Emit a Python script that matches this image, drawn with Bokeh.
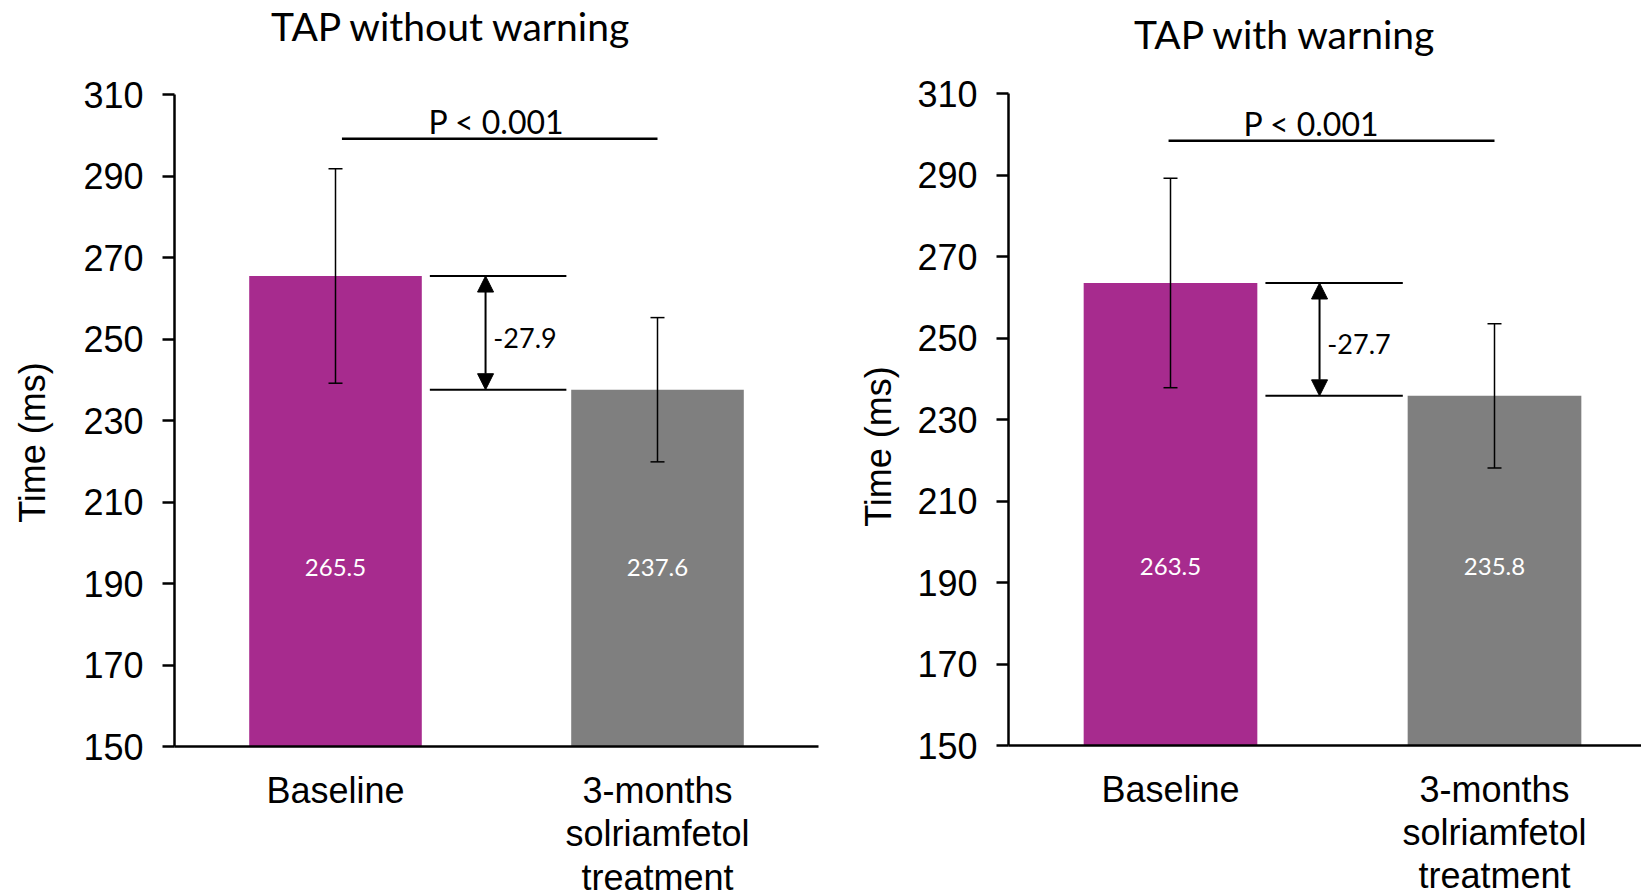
import math
from bokeh.plotting import figure
from bokeh.models import (ColumnDataSource, Whisker, TeeHead, Arrow, NormalHead,
                          FixedTicker, Range1d)
from bokeh.layouts import row
from bokeh.embed import file_html
from bokeh.resources import INLINE
from bokeh.core.properties import value

# ---------------- data ----------------
categories = ["Baseline", "3-months\nsolriamfetol\ntreatment"]
panel_titles = ["TAP without warning", "TAP with warning"]
means_no_warning = [265.5, 237.6]
sd_no_warning = [26.3, 17.7]
means_warning = [263.5, 235.8]
sd_warning = [25.7, 17.7]
p_labels = ["P < 0.001", "P < 0.001"]
y_ticks = [150, 170, 190, 210, 230, 250, 270, 290, 310]
y_axis_title = "Time (ms)"
bar_colors = ["#A72B8E", "#7F7F7F"]

# ---------------- layout / style ----------------
H = 892
Y_MIN, Y_MAX = 150, 310
BAR_W = 0.536
X_POS = [0.5, 1.5]
VALUE_LABEL_Y = 194
TICK_FONT = "Liberation Sans"
ANN_FONT = "Lato"


def make_panel(title, means, sds, p_label, cfg):
    W = cfg["width"]
    ax_px, cat_px = cfg["axis_px"], cfg["cat_px"]
    top_px, bot_px = cfg["top_px"], cfg["bot_px"]
    ppu = (bot_px - top_px) / (Y_MAX - Y_MIN)
    x0 = -ax_px / cat_px
    x1 = (W - ax_px) / cat_px
    y1 = Y_MAX + top_px / ppu
    y0 = Y_MIN - (H - bot_px) / ppu

    def px_x(px):
        return (px - ax_px) / cat_px

    def px_y(py):
        return Y_MAX - (py - top_px) / ppu

    p = figure(width=W, height=H, output_backend="svg", toolbar_location=None,
               x_range=Range1d(x0, x1), y_range=Range1d(y0, y1),
               min_border=0, min_border_left=0, min_border_right=0,
               min_border_top=0, min_border_bottom=0)
    p.outline_line_color = None
    p.grid.visible = False
    p.background_fill_color = "white"
    p.border_fill_color = "white"

    src = ColumnDataSource(dict(
        x=X_POS, top=means, color=bar_colors,
        upper=[m + s for m, s in zip(means, sds)],
        lower=[m - s for m, s in zip(means, sds)],
        label=[f"{m:.1f}" for m in means],
        ly=[VALUE_LABEL_Y] * len(means),
    ))
    p.vbar(x="x", top="top", bottom=Y_MIN, width=BAR_W, fill_color="color",
           line_color=None, source=src)
    p.text(x="x", y="ly", text="label", source=src, text_color="white",
           text_font=value(ANN_FONT), text_font_size="24px",
           text_align="center", text_baseline="middle")

    wk = Whisker(source=src, base="x", upper="upper", lower="lower",
                 line_color="black", line_width=1.5, level="annotation",
                 upper_head=TeeHead(size=14, line_width=1.5, line_color="black"),
                 lower_head=TeeHead(size=14, line_width=1.5, line_color="black"))
    p.add_layout(wk)

    # difference bracket
    bx0 = X_POS[0] + BAR_W / 2 + 0.025
    bx1 = X_POS[1] - BAR_W / 2 - 0.015
    p.segment(x0=[bx0, bx0], y0=means, x1=[bx1, bx1], y1=means,
              line_color="black", line_width=2)
    ax = cfg["arrow_x"]
    p.add_layout(Arrow(x_start=ax, y_start=means[1], x_end=ax, y_end=means[0],
                       line_color="black", line_width=2,
                       start=NormalHead(size=16, fill_color="black", line_color="black"),
                       end=NormalHead(size=16, fill_color="black", line_color="black")))
    diff = means[1] - means[0]
    p.text(x=[ax + 0.024], y=[(means[0] + means[1]) / 2 - 1.2], text=[f"{diff:.1f}"],
           text_color="black", text_font=value(ANN_FONT), text_font_size="27px",
           text_align="left", text_baseline="middle")

    # significance line
    p.segment(x0=[X_POS[0] - cfg["pl_off"]], y0=[cfg["p_line_y"]],
              x1=[X_POS[1]], y1=[cfg["p_line_y"]],
              line_color="black", line_width=2.5)
    p.text(x=[cfg["p_text_x"]], y=[cfg["p_line_y"] + 4.2], text=[p_label],
           text_color="black", text_font=value(ANN_FONT), text_font_size="32px",
           text_align="center", text_baseline="middle")

    # panel title
    p.text(x=[px_x(cfg["title_cx"])], y=[px_y(cfg["title_cy"])], text=[title],
           text_color="black", text_font=value(ANN_FONT), text_font_size="39px",
           text_align="center", text_baseline="middle")

    # y-axis title (rotated)
    p.text(x=[px_x(cfg["yl_cx"])], y=[px_y(cfg["yl_cy"])], text=[y_axis_title],
           angle=math.pi / 2, text_color="black", text_font=value(TICK_FONT),
           text_font_size="36px", text_align="center", text_baseline="middle")

    # y axis
    yax = p.yaxis[0]
    yax.fixed_location = 0
    yax.bounds = (Y_MIN, Y_MAX)
    yax.ticker = FixedTicker(ticks=y_ticks)
    yax.minor_tick_line_color = None
    yax.major_tick_out = 12
    yax.major_tick_in = 0
    yax.major_tick_line_width = 2.5
    yax.axis_line_width = 2.5
    yax.major_label_text_font = TICK_FONT
    yax.major_label_text_font_size = "36px"
    yax.major_label_text_color = "black"
    yax.major_label_standoff = 19

    # x axis with category labels
    xax = p.xaxis[0]
    xax.fixed_location = Y_MIN
    xax.bounds = (0, cfg["x_axis_end"])
    xax.ticker = FixedTicker(ticks=X_POS)
    xax.major_label_overrides = {x: c for x, c in zip(X_POS, categories)}
    xax.major_label_text_font = TICK_FONT
    xax.major_label_text_font_size = "36px"
    xax.major_label_text_color = "black"
    xax.major_label_text_line_height = 1.06
    xax.major_label_standoff = 23
    xax.major_tick_line_color = None
    xax.major_tick_out = 0
    xax.major_tick_in = 0
    xax.minor_tick_line_color = None
    xax.axis_line_width = 2.5
    return p


cfg_left = dict(width=830, axis_px=174, cat_px=322, top_px=94.2, bot_px=746.2,
                x_axis_end=2.0,
                arrow_x=0.966, p_line_y=299.2, pl_off=-0.02, p_text_x=1.0,
                title_cx=451, title_cy=25, yl_cx=32, yl_cy=442)
cfg_right = dict(width=811, axis_px=178, cat_px=324, top_px=93, bot_px=745,
                 x_axis_end=2.0,
                 arrow_x=0.96, p_line_y=298.4, pl_off=0.006, p_text_x=0.935,
                 title_cx=455, title_cy=33, yl_cx=48, yl_cy=446)

p1 = make_panel(panel_titles[0], means_no_warning, sd_no_warning, p_labels[0], cfg_left)
p2 = make_panel(panel_titles[1], means_warning, sd_warning, p_labels[1], cfg_right)

layout = row(p1, p2)
open("out.html", "w").write(file_html(layout, INLINE))
